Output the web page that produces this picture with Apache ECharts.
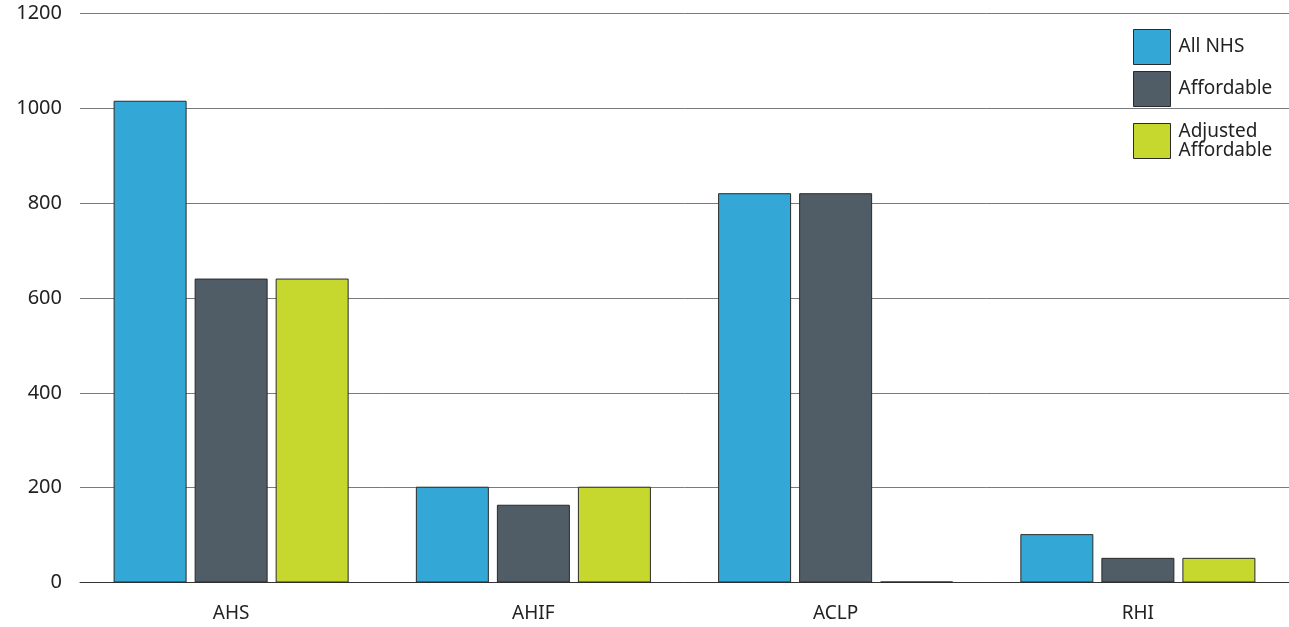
<!DOCTYPE html>
<html>
<head>
<meta charset="utf-8">
<script src="https://cdn.jsdelivr.net/npm/echarts@6/dist/echarts.min.js"></script>
<style>
  html, body { margin: 0; padding: 0; background: #fff; }
  #chart { width: 1289px; height: 627px; }
</style>
</head>
<body>
<div id="chart"></div>
<script>
// Scheme categories and counts per series
const categories = ['AHS', 'AHIF', 'ACLP', 'RHI'];
const allNhs = [1016, 202, 821, 102];
const affordable = [641, 164, 821, 52];
const adjustedAffordable = [641, 202, 2, 52];
const yTicks = [0, 200, 400, 600, 800, 1000, 1200];

const FONT = '"Noto Sans", "Open Sans", sans-serif';
const colors = { blue: '#33a8d6', grey: '#505d66', green: '#c6d82e' };

const chart = echarts.init(document.getElementById('chart'), null, { renderer: 'canvas' });

function bar(name, data, color) {
  return {
    name: name,
    type: 'bar',
    data: data,
    barWidth: 73,
    barGap: '11%',
    itemStyle: { color: color, borderColor: '#2a2a2a', borderWidth: 1 },
    emphasis: { disabled: true }
  };
}

function legendBox(name, top) {
  return {
    data: [name],
    orient: 'vertical',
    left: 1128,
    top: top,
    icon: 'rect',
    itemWidth: 37,
    itemHeight: 35,
    selectedMode: false,
    itemStyle: { borderColor: '#2a2a2a', borderWidth: 1 },
    textStyle: {
      fontFamily: FONT, fontSize: 19, color: '#222', lineHeight: 19,
      padding: [0, 0, 0, 3]
    }
  };
}

chart.setOption({
  animation: false,
  color: [colors.blue, colors.grey, colors.green],
  grid: { left: 80, right: 0, top: 13.5, bottom: 44.5 },
  legend: [
    legendBox('All NHS', 24),
    legendBox('Affordable', 66),
    legendBox('Adjusted\nAffordable', 117)
  ],
  xAxis: {
    type: 'category',
    data: categories,
    axisTick: { show: false },
    axisLine: { lineStyle: { color: '#333', width: 1 } },
    axisLabel: { fontFamily: FONT, fontSize: 19, color: '#222', margin: 22 }
  },
  yAxis: {
    type: 'value',
    min: yTicks[0],
    max: yTicks[yTicks.length - 1],
    interval: yTicks[1] - yTicks[0],
    axisLine: { show: false },
    axisTick: { show: false },
    splitLine: { lineStyle: { color: '#7a7a7a', width: 1 } },
    axisLabel: {
      fontFamily: FONT, fontSize: 20, color: '#222', margin: 18,
      formatter: (v) => String(v)
    }
  },
  series: [
    bar('All NHS', allNhs, colors.blue),
    bar('Affordable', affordable, colors.grey),
    bar('Adjusted\nAffordable', adjustedAffordable, colors.green)
  ]
});
</script>
</body>
</html>
